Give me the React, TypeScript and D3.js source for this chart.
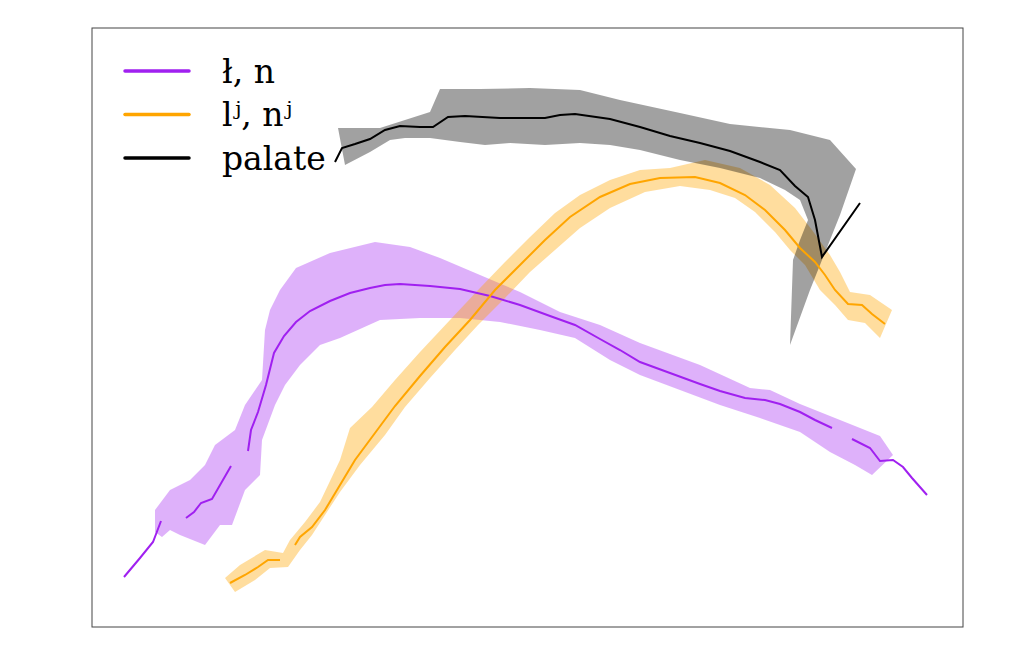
import React from 'react';
import * as d3 from 'd3';

type P = [number, number];

// data in plot units (x right, y up), axis spans 0..871 x 0..599
const toU = (pts: P[]): P[] => pts.map(([x, y]) => [x - 92, 627 - y]);

const purpleLine: P[][] = [
  [[124,577],[140,558],[153,542],[161,521]],
  [[186,518],[194,512],[201,503],[212,499],[231,466]],
  [[248,451],[251,430],[258,412],[266,385],[274,353],[284,336],[296,322],[310,311],[330,301],[350,293],[370,288],[385,285],[400,284],[430,286],[460,289],[490,296],[520,305],[550,316],[575,325],[600,339],[620,350],[640,362],[670,373],[700,384],[720,391],[745,398],[765,400],[780,404],[800,412],[815,420],[832,428]],
  [[852,439],[870,448],[880,461],[893,460],[903,467],[912,478],[927,495]],
];
const purpleUpper: P[] = [[155,510],[170,490],[190,480],[205,465],[215,445],[235,430],[245,405],[262,380],[265,330],[270,310],[280,290],[296,268],[330,253],[375,242],[410,247],[440,258],[480,275],[520,292],[560,312],[600,325],[640,343],[700,365],[750,388],[770,390],[800,404],[840,420],[880,436],[893,455]];
const purpleLower: P[] = [[872,475],[855,465],[830,452],[800,432],[760,418],[720,405],[680,390],[640,375],[610,360],[575,338],[540,330],[500,322],[460,318],[420,318],[380,320],[340,338],[320,345],[300,365],[285,385],[275,405],[262,440],[260,475],[245,490],[232,525],[220,525],[205,545],[180,535],[170,530],[162,537],[155,532]];

const orangeLine: P[][] = [
  [[230,583],[245,575],[258,567],[268,560],[280,560]],
  [[295,545],[300,537],[312,527],[325,510],[340,485],[355,460],[375,433],[395,406],[420,376],[445,347],[470,320],[495,290],[520,265],[545,240],[570,217],[600,197],[630,184],[660,178],[695,177],[720,183],[745,195],[765,210],[785,230],[800,248],[815,262],[825,275],[835,290],[848,304],[862,305],[872,314],[885,324]],
];
const orangeUpper: P[] = [[225,578],[240,565],[265,550],[283,553],[290,540],[305,522],[320,502],[340,460],[350,428],[372,407],[395,380],[420,352],[450,320],[480,288],[505,262],[530,237],[555,213],[580,195],[610,180],[640,170],[670,168],[705,160],[740,168],[770,185],[795,208],[812,230],[830,255],[840,272],[850,292],[870,295],[892,310]];
const orangeLower: P[] = [[880,338],[865,323],[848,320],[835,305],[820,290],[805,265],[790,250],[775,232],[755,212],[735,198],[710,190],[680,186],[645,192],[610,208],[580,228],[555,250],[530,272],[505,298],[478,325],[455,350],[430,378],[405,407],[385,435],[360,465],[340,492],[325,515],[312,535],[300,550],[288,567],[270,568],[255,580],[235,592]];

const palateLine: P[] = [[335,162],[342,148],[355,144],[370,139],[385,130],[400,126],[420,127],[433,127],[448,117],[465,116],[500,118],[545,118],[560,115],[575,114],[610,119],[640,127],[670,136],[700,143],[730,151],[760,162],[780,170],[795,186],[808,197],[815,220],[822,257],[860,203]];
const palateUpper: P[] = [[338,128],[380,128],[430,112],[440,89],[480,89],[530,88],[580,90],[620,100],[680,113],[730,124],[790,130],[830,140],[856,169],[840,215],[822,260],[810,290],[790,345]];
const palateLower: P[] = [[793,260],[800,240],[808,220],[800,200],[785,190],[760,178],[720,168],[680,160],[640,150],[610,145],[580,143],[545,145],[510,143],[485,145],[460,142],[430,138],[405,138],[390,140],[370,152],[345,165]];

const legendLabels = ['ł, n', 'lʲ, nʲ', 'palate'];
const legendColors = ['#a020f0', '#ffa500', '#000000'];

const W = 1011, H = 656;
const m = { left: 92, top: 28, right: 963, bottom: 627 };
const x = d3.scaleLinear().domain([0, 871]).range([m.left, m.right]);
const y = d3.scaleLinear().domain([0, 599]).range([m.bottom, m.top]);
const line = d3.line<P>().x(d => x(d[0])).y(d => y(d[1]));
const poly = (up: P[], lo: P[]) => line(toU([...up, ...lo]))! + 'Z';

export default function App() {
  return (
    <svg width={W} height={H} style={{ position: 'absolute', left: 0, top: 0, background: '#fff' }}>
      <defs>
        <clipPath id="c"><rect x={m.left} y={m.top} width={m.right - m.left} height={m.bottom - m.top} /></clipPath>
      </defs>
      <g clipPath="url(#c)">
        <path d={poly(purpleUpper, purpleLower)} fill="#a020f0" fillOpacity={0.35} />
        <path d={poly(orangeUpper, orangeLower)} fill="#ffa500" fillOpacity={0.38} />
        <path d={poly(palateUpper, palateLower)} fill="#000" fillOpacity={0.37} />
        {purpleLine.map((s, i) => <path key={'p' + i} d={line(toU(s))!} fill="none" stroke="#a020f0" strokeWidth={2} />)}
        {orangeLine.map((s, i) => <path key={'o' + i} d={line(toU(s))!} fill="none" stroke="#ffa500" strokeWidth={2} />)}
        <path d={line(toU(palateLine))!} fill="none" stroke="#000" strokeWidth={2} />
      </g>
      <rect x={m.left} y={m.top} width={m.right - m.left} height={m.bottom - m.top} fill="none" stroke="#444" strokeWidth={1} />
      {legendLabels.map((l, i) => (
        <g key={l} transform={`translate(0,${71 + i * 43.5})`}>
          <line x1={125} x2={189} stroke={legendColors[i]} strokeWidth={3.5} strokeLinecap="round" />
          <text x={222} dy="0.35em" fontFamily="DejaVu Serif" fontSize={33} fill="#000">{l}</text>
        </g>
      ))}
    </svg>
  );
}
